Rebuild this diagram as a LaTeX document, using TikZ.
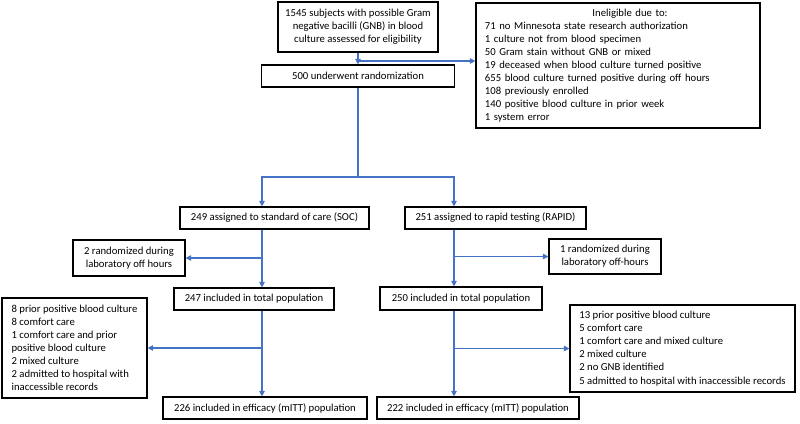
\documentclass[tikz,border=0pt]{standalone}
\usepackage{fontspec}
\setmainfont{Carlito}
\usepackage{xcolor}
\usepackage{tikz}
\usetikzlibrary{arrows.meta,calc,positioning}
\definecolor{flowblue}{HTML}{4472C4}
\tikzset{
  box/.style={draw, line width=0.8pt, inner xsep=0.1cm, inner ysep=0pt,
    minimum height=0.55cm, font=\fontsize{7.6}{9.3}\selectfont},
  arr/.style={draw=flowblue, line width=0.8pt, -{Triangle[length=4pt,width=4pt]}},
  link/.style={draw=flowblue, line width=0.8pt}
}

\begin{document}
\begin{tikzpicture}[x=0.025cm, y=-0.025cm]
  \useasboundingbox (0,0) rectangle (800,423);

  % screening and randomization
  \node[box, align=center, minimum width=4cm, minimum height=1.25cm] (screen) at (358,27)
    {1545 subjects with possible Gram\\negative bacilli (GNB) in blood\\culture assessed for eligibility};
  \node[box, align=left, text width=6.65cm, inner xsep=0.225cm, minimum height=3.125cm] (inelig) at (618,65.5)
    {\hfill\hspace{0.6cm}Ineligible due to:\hfill\null\\
     71 no Minnesota state research authorization\\
     1 culture not from blood specimen\\
     50 Gram stain without GNB or mixed\\
     19 deceased when blood culture turned positive\\
     655 blood culture turned positive during off hours\\
     108 previously enrolled\\
     140 positive blood culture in prior week\\
     1 system error};
  \node[box, minimum width=4.825cm] (random) at (358,76) {500 underwent randomization};

  % arms
  \node[box, minimum width=4.725cm] (soc) at (274.5,218) {249 assigned to standard of care (SOC)};
  \node[box, minimum width=4.525cm] (rapid) at (495.5,218) {251 assigned to rapid testing (RAPID)};

  \node[box, align=center, minimum width=2.8cm, minimum height=0.9cm] (offsoc) at (129,258)
    {2 randomized during\\laboratory off hours};
  \node[box, align=center, minimum width=2.8cm, minimum height=0.875cm] (offrapid) at (605,256.5)
    {1 randomized during\\laboratory off-hours};

  \node[box, minimum width=4cm] (totsoc) at (254,299) {247 included in total population};
  \node[box, minimum width=4.05cm, minimum height=0.575cm] (totrapid) at (461,298.5) {250 included in total population};

  \node[box, align=left, minimum width=3.625cm, minimum height=2.5cm] (exsoc) at (74.5,348)
    {8 prior positive blood culture\\
     8 comfort care\\
     1 comfort care and prior\\
     positive blood culture\\
     2 mixed culture\\
     2 admitted to hospital with\\
     inaccessible records};
  \node[box, align=left, minimum width=5.625cm, minimum height=2.175cm] (exrapid) at (682.5,348.5)
    {13 prior positive blood culture\\
     5 comfort care\\
     1 comfort care and mixed culture\\
     2 mixed culture\\
     2 no GNB identified\\
     5 admitted to hospital with inaccessible records};

  \node[box, minimum width=5.1cm] (effsoc) at (265,408) {226 included in efficacy (mITT) population};
  \node[box, minimum width=5.05cm] (effrapid) at (478,408) {222 included in efficacy (mITT) population};

  % connectors
  \coordinate (split) at (358,61);
  \coordinate (armL) at (262,177);
  \coordinate (armR) at (454,177);

  \draw[arr] (screen.south) -- (screen.south |- random.north);
  \draw[arr] (split) -- (split -| inelig.west);
  \draw[arr] (random.south) |- (armL) -- (armL |- soc.north);
  \draw[arr] (random.south) |- (armR) -- (armR |- rapid.north);

  \draw[arr] (armL |- soc.south) -- (armL |- totsoc.north);
  \draw[arr] (armL |- offsoc.east) -- (offsoc.east);
  \draw[arr] (armR |- rapid.south) -- (armR |- totrapid.north);
  \draw[arr] (armR |- offrapid.west) -- (offrapid.west);

  \draw[arr] (armL |- totsoc.south) -- (armL |- effsoc.north);
  \draw[arr] (armL |- exsoc.east) -- (exsoc.east);
  \draw[arr] (armR |- totrapid.south) -- (armR |- effrapid.north);
  \draw[arr] (armR |- exrapid.west) -- (exrapid.west);
\end{tikzpicture}
\end{document}
